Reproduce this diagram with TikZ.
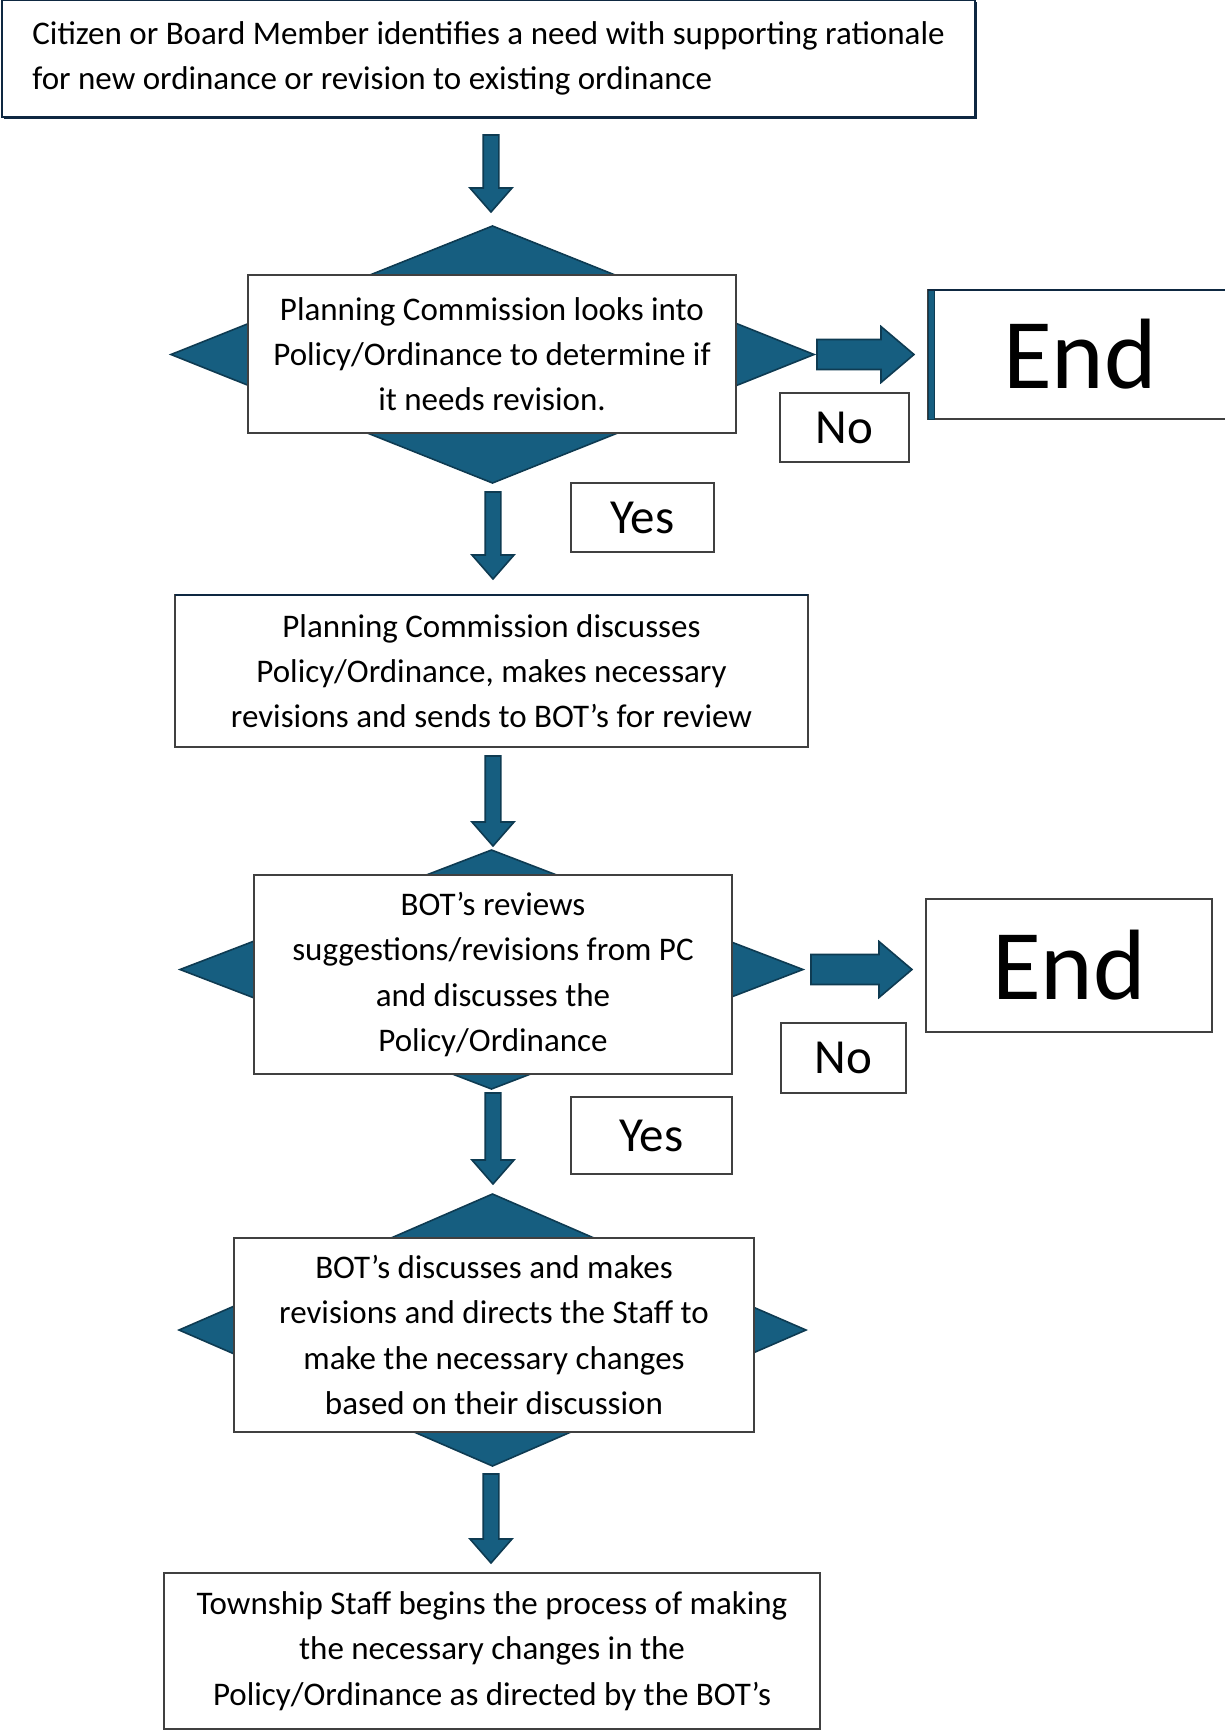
\documentclass[tikz,border=0pt]{standalone}
\usepackage{fontspec}
\setmainfont{Carlito}
\newcommand*{\bodyfont}{\fontsize{16.5}{22.6}\selectfont}
\newcommand*{\tagfont}{\fontsize{24.5}{28}\selectfont}
\newcommand*{\stopfont}{\fontsize{50}{52}\selectfont}
\definecolor{B}{HTML}{165E80}
\definecolor{D}{HTML}{0E3B52}
\definecolor{N}{HTML}{0E2841}
\definecolor{G}{HTML}{404040}
\usepackage{tikz}
\usetikzlibrary{calc}
\usetikzlibrary{shapes.geometric}
\usetikzlibrary{shadows}
\tikzstyle{base}=[x=0.5pt, y=-0.5pt, inner sep=0pt, outer sep=0pt]
\tikzstyle{box}=[draw=G, line width=0.7pt, fill=white, align=center, font=\bodyfont]
\tikzstyle{need}=[draw=N, line width=1.2pt, fill=white, drop shadow={shadow xshift=1.2pt, shadow yshift=-1.2pt, fill=N, opacity=1}, align=left, minimum width=486.5pt, minimum height=58.5pt, font=\bodyfont]
\tikzstyle{choice}=[diamond, draw=D, line width=0.8pt, fill=B]
\tikzstyle{tag}=[draw=G, line width=0.7pt, fill=white, font=\tagfont]
\tikzstyle{stop}=[draw=G, line width=0.7pt, fill=white, font=\stopfont]
\tikzset{
    fat/.style n args={3}{draw=D, line width=0.8pt, fill=B, to path={
        let \p1=($(\tikztotarget)!#3!(\tikztostart)$) in
        ($(\tikztostart)!#1!90:(\tikztotarget)$) -- ($(\p1)!#1!90:(\tikztotarget)$)
        -- ($(\p1)!#2!90:(\tikztotarget)$) -- (\tikztotarget)
        -- ($(\p1)!#2!-90:(\tikztotarget)$) -- ($(\p1)!#1!-90:(\tikztotarget)$)
        -- ($(\tikztostart)!#1!-90:(\tikztotarget)$) -- cycle}},
    droparrow/.style={fat={3.9pt}{10.5pt}{12pt}},
    sidearrow/.style={fat={7.5pt}{14pt}{16.5pt}}
}

\begin{document}
\begin{tikzpicture}[base]
    \useasboundingbox [fill=white] (0,0) rectangle (1225,1731);
        \node [need] (need) at (488.5,58.5) {Citizen or Board Member identifies a need with supporting rationale\\for new ordinance or revision to existing ordinance};

        \node [choice, minimum width=321.5pt, minimum height=128.5pt] (pcdiamond) at (492.5,354.5) {};
        \node [box, minimum width=244pt, minimum height=79pt] (pclook) at (492,354) {Planning Commission looks into\\Policy/Ordinance to determine if\\it needs revision.};
        \node [stop, minimum width=152pt, minimum height=64.5pt] (pcend) at (1080,354.5) {End};
        \fill [B, draw=D, line width=0.4pt] (pcend.north west) rectangle ([xshift=3pt]pcend.south west);
        \draw [N, line width=0.8pt] (pcend.north west) -- (pcend.north east);
        \node [tag, minimum width=64.5pt, minimum height=34.5pt] (pcno) at (844.5,427.5) {No};
        \node [tag, minimum width=71.5pt, minimum height=34.5pt] (pcyes) at (642.5,517.5) {Yes};

        \node [box, minimum width=316.5pt, minimum height=76pt] (pcrevise) at (491.5,671) {Planning Commission discusses\\Policy/Ordinance, makes necessary\\revisions and sends to BOT’s for review};
        \draw [N, line width=1.2pt] (pcrevise.north west) -- (pcrevise.north east);

        \node [choice, minimum width=311.5pt, minimum height=119.5pt] (botdiamond) at (491.5,969.5) {};
        \node [box, minimum width=239pt, minimum height=99.5pt] (botreview) at (493,974.5) {BOT’s reviews\\suggestions/revisions from PC\\and discusses the\\Policy/Ordinance};
        \node [stop, minimum width=143pt, minimum height=66.5pt] (botend) at (1069,965.5) {End};
        \node [tag, minimum width=62.5pt, minimum height=35pt] (botno) at (843.5,1058) {No};
        \node [tag, minimum width=80.5pt, minimum height=38.5pt] (botyes) at (651.5,1135.5) {Yes};

        \node [choice, minimum width=313.5pt, minimum height=136pt] (dirdiamond) at (492.5,1330) {};
        \node [box, minimum width=260pt, minimum height=97pt] (botdirect) at (494,1335) {BOT’s discusses and makes\\revisions and directs the Staff to\\make the necessary changes\\based on their discussion};

        \node [box, minimum width=328pt, minimum height=78pt] (staff) at (492,1651) {Township Staff begins the process of making\\the necessary changes in the\\Policy/Ordinance as directed by the BOT’s};

        \draw [droparrow] ([shift={(1.25pt,-9pt)}]need.south) to ([shift={(-0.75pt,7pt)}]pcdiamond.north);
        \draw [droparrow] ([shift={(0.25pt,-4.5pt)}]pcdiamond.south) to ([shift={(0.75pt,8pt)}]pcrevise.north);
        \draw [droparrow] ([shift={(0.75pt,-4.5pt)}]pcrevise.south) to ([shift={(0.75pt,2pt)}]botdiamond.north);
        \draw [droparrow] ([shift={(0.75pt,-2pt)}]botdiamond.south) to ([shift={(0.25pt,5pt)}]dirdiamond.north);
        \draw [droparrow] ([shift={(-0.75pt,-4pt)}]dirdiamond.south) to ([shift={(-0.5pt,5pt)}]staff.north);
        \draw [sidearrow] ([xshift=1.5pt]pcdiamond.east) to ([xshift=-7pt]pcend.west);
        \draw [sidearrow] ([xshift=4pt]botdiamond.east) to ([shift={(-7pt,-2pt)}]botend.west);
    \end{tikzpicture}
\end{document}
